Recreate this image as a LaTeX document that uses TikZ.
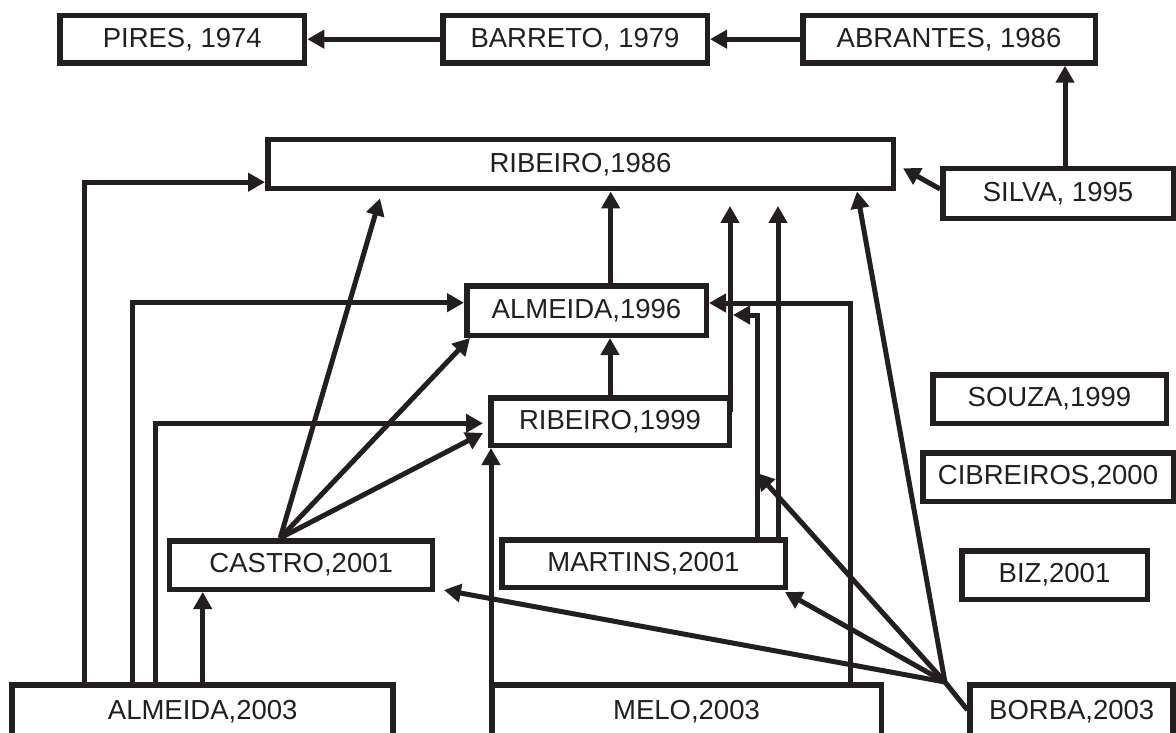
\documentclass[tikz,border=0pt]{standalone}
\usepackage{fontspec}
\setmainfont{Liberation Sans}
\usetikzlibrary{arrows.meta}
\definecolor{ink}{RGB}{35,31,32}

\begin{document}
\begin{tikzpicture}[x=1pt,y=-1pt,
  box/.style={draw=ink,line width=5.5pt,rectangle,inner sep=0pt,minimum height=47.5pt,text=ink,font=\fontsize{27.5}{30}\selectfont},
  conn/.style={draw=ink,line width=5pt,-{Triangle[length=17pt,width=18pt]}},
  link/.style={draw=ink,line width=5pt}]
\useasboundingbox[fill=white] (0,0) rectangle (1176,733);

% boxes
\node[box,minimum width=244.5pt] (pires) at (182.3,39.2) {PIRES, 1974};
\node[box,minimum width=264.5pt] (barreto) at (575,39.2) {BARRETO, 1979};
\node[box,minimum width=292.5pt] (abrantes) at (949,39.2) {ABRANTES, 1986};
\node[box,minimum width=625.5pt,minimum height=49pt] (ribeiroA) at (580.5,164.2) {RIBEIRO,1986};
\node[box,minimum width=230.5pt,minimum height=49.5pt] (silva) at (1058,193.5) {SILVA, 1995};
\node[box,minimum width=239.5pt,minimum height=49.5pt] (almeidaA) at (586.5,310.5) {ALMEIDA,1996};
\node[box,minimum width=238.5pt] (ribeiroB) at (610,421.5) {RIBEIRO,1999};
\node[box,minimum width=233.5pt,minimum height=48.5pt] (souza) at (1049.5,399) {SOUZA,1999};
\node[box,minimum width=250.5pt,minimum height=48.5pt] (cibreiros) at (1048,477) {CIBREIROS,2000};
\node[box,minimum width=263pt,minimum height=48.5pt] (castro) at (301.2,565) {CASTRO,2001};
\node[box,minimum width=283.5pt] (martins) at (643.5,563.5) {MARTINS,2001};
\node[box,minimum width=185.5pt,minimum height=48.5pt] (biz) at (1054.5,575) {BIZ,2001};
\node[box,minimum width=381pt,minimum height=54.5pt] (almeidaB) at (202.7,712) {ALMEIDA,2003};
\node[box,minimum width=389.5pt,minimum height=54.5pt] (melo) at (686.5,712) {MELO,2003};
\node[box,minimum width=203pt,minimum height=54.5pt] (borba) at (1071.7,712) {BORBA,2003};

% top row
\draw[conn] (barreto) -- (pires);
\draw[conn] (abrantes) -- (barreto);
\draw[conn] ([xshift=7pt]silva.north) -- ([xshift=7pt]silva.north |- abrantes.south);
\draw[conn] ([yshift=4.5pt]silva.west) -- ([xshift=7pt,yshift=-4pt]ribeiroA.east);

% almeida 2003
\draw[conn] ([xshift=-118.7pt]almeidaB.north) |- ([yshift=-18pt]ribeiroA.west);
\draw[conn] ([xshift=-70.7pt]almeidaB.north) |- ([yshift=7.8pt]almeidaA.west);
\draw[conn] ([xshift=-47.2pt]almeidaB.north) |- ([xshift=-5pt,yshift=-1.8pt]ribeiroB.west);
\draw[conn] (almeidaB.north) -- (almeidaB.north |- castro.south);

% castro
\coordinate (cfan) at ([xshift=-21pt]castro.north);
\draw[conn] (cfan) -- ([xshift=-200.5pt,yshift=-7pt]ribeiroA.south);
\draw[conn] (cfan) -- ([xshift=6pt]almeidaA.south west);
\draw[conn] (cfan) -- ([xshift=-5pt,yshift=-11.5pt]ribeiroB.west);

% almeida 1996 and ribeiro 1999
\draw[conn] ([xshift=24.2pt]almeidaA.north) -- ([xshift=24.2pt]almeidaA.north |- ribeiroA.south);
\draw[conn] (ribeiroB.north) -- (ribeiroB.north |- almeidaA.south);
\draw[conn,shorten >=14.5pt] ([xshift=-2pt,yshift=9.5pt]ribeiroB.east) -- ([xshift=-2pt]ribeiroB.east |- ribeiroA.south);

% melo
\draw[conn] ([xshift=-195.5pt]melo.north) -- ([xshift=-195.5pt]melo.north |- ribeiroB.south);
\draw[conn] ([xshift=163.5pt]melo.north) |- ([yshift=7.5pt]almeidaA.east);

% martins
\draw[conn] ([xshift=113.5pt]martins.north) |- ([xshift=24pt,yshift=-4.5pt]almeidaA.east);
\draw[conn,shorten >=14.5pt] ([xshift=134.5pt]martins.north) -- ([xshift=134.5pt]martins.north |- ribeiroA.south);

% borba
\coordinate (bfan) at ([xshift=-22.5pt,yshift=30pt]borba.west);
\draw[link] ([yshift=2pt]borba.west) -- (bfan);
\draw[conn] (bfan) -- ([xshift=8.5pt,yshift=2pt]castro.south east);
\draw[conn] (bfan) -- ([xshift=-3pt,yshift=-2pt]martins.south east);
\draw[conn] (bfan) -- ([xshift=113.5pt,yshift=64pt]martins.north);
\draw[conn] (bfan) -- ([xshift=-39pt]ribeiroA.south east);
\end{tikzpicture}
\end{document}
